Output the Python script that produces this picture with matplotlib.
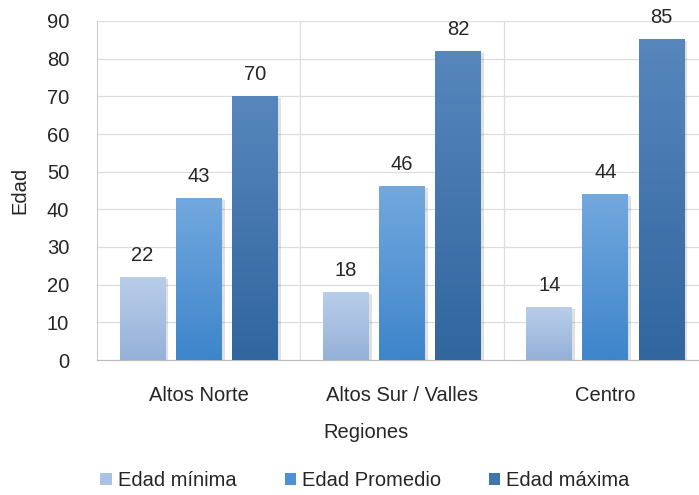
import numpy as np
import matplotlib
matplotlib.use("Agg")
import matplotlib.pyplot as plt
from matplotlib.colors import LinearSegmentedColormap
from matplotlib.patches import Patch

regions = ["Altos Norte", "Altos Sur / Valles", "Centro"]
series_names = ["Edad mínima", "Edad Promedio", "Edad máxima"]
edad_min = [22, 18, 14]
edad_prom = [43, 46, 44]
edad_max = [70, 82, 85]
series = [edad_min, edad_prom, edad_max]

grads = [("#b9cde9", "#95b1d8"), ("#72a8de", "#3e85cb"), ("#5686bc", "#31669e")]
legend_cols = ["#a9c2e4", "#4d92d6", "#3f74ae"]

FS = 14.5
TXT = "#262626"
plt.rcParams['font.family'] = ['Liberation Sans', 'DejaVu Sans']
fig = plt.figure(figsize=(6.99, 4.95), dpi=100)
W, H = 699, 495
ax = fig.add_axes([97 / W, 1 - 360 / H, (699 - 97) / W, (360 - 21) / H])

x = np.arange(len(regions))
width = 0.226
step = 0.276
for i, (vals, (ctop, cbot)) in enumerate(zip(series, grads)):
    bars = ax.bar(x + (i - 1) * step, vals, width, color="none", zorder=3)
    cmap = LinearSegmentedColormap.from_list("g%d" % i, [cbot, ctop])
    for b in bars:
        x0, y0 = b.get_x(), b.get_y()
        w, h = b.get_width(), b.get_height()
        ax.add_patch(plt.Rectangle((x0 + 0.008, y0), w + 0.006, h - 0.4,
                                   color="#000000", alpha=0.12, zorder=2, lw=0))
        grad = np.linspace(0, 1, 100).reshape(-1, 1)
        ax.imshow(grad, extent=[x0, x0 + w, y0, y0 + h], origin="lower",
                  cmap=cmap, aspect="auto", zorder=3)
        ax.text(x0 + w / 2, h + 3.3, f"{int(round(h))}", ha="center", va="bottom",
                fontsize=FS, color=TXT, zorder=4)

ax.set_xlim(-0.5, 2.46)
ax.set_ylim(0, 90)
ax.set_yticks(range(0, 91, 10))
ax.set_xticks(x)
ax.set_xticklabels(regions, fontsize=FS, color=TXT)
ax.tick_params(axis="y", labelsize=FS, colors=TXT, length=0, pad=20)
ax.tick_params(axis="x", length=0, pad=19)
ax.grid(axis="y", color="#dddddd", lw=0.9, zorder=0)
for xs in [0.5, 1.5]:
    ax.axvline(xs, color="#dddddd", lw=0.9, zorder=0)
for s in ["top", "right"]:
    ax.spines[s].set_visible(False)
ax.spines["left"].set_color("#cccccc")
ax.spines["bottom"].set_color("#bbbbbb")
ax.set_ylabel("Edad", fontsize=FS, color=TXT)
ax.yaxis.set_label_coords(-(97 - 29) / (699 - 97), 0.5)
ax.set_xlabel("Regiones", fontsize=FS, color=TXT)
ax.xaxis.set_label_coords((366 - 97) / (699 - 97), -(432 - 360) / (360 - 21))
ax.xaxis.label.set_va("center")

handles = [Patch(facecolor=c, edgecolor="none") for c in legend_cols]
fig.legend(handles, series_names, loc="center", bbox_to_anchor=(365 / W, 1 - 481 / H),
           ncol=3, frameon=False, fontsize=FS, handlelength=0.55, handleheight=0.55,
           handletextpad=0.3, columnspacing=2.4, labelcolor=TXT)

fig.savefig("out.png", dpi=100)
